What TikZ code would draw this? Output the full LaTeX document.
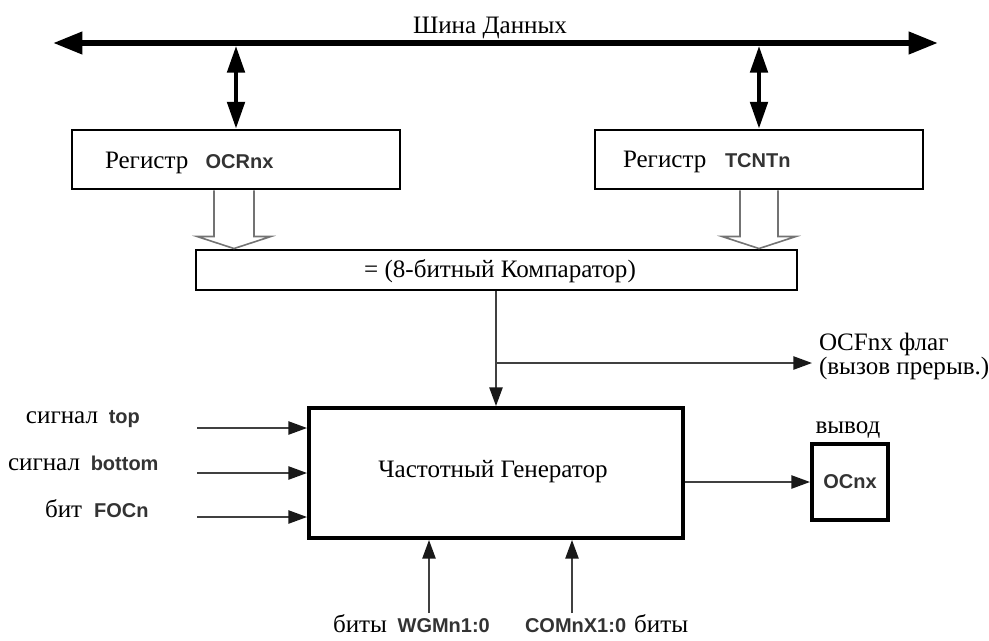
\documentclass[tikz,border=0pt]{standalone}
\usepackage{fontspec}
\setmainfont{Liberation Serif}
\setsansfont{Liberation Sans}
\usetikzlibrary{arrows.meta,calc}
\newcommand\sfb[1]{{\sffamily\bfseries\fontsize{15pt}{17pt}\selectfont\color{black!80}#1}}
\begin{document}
\begin{tikzpicture}[x=0.75pt,y=-0.75pt,
  serif/.style={font=\fontsize{18.8pt}{20pt}\selectfont, inner sep=0pt, outer sep=0pt},
  bus/.style={line width=4.5pt, {Triangle[length=22pt,width=16pt]}-{Triangle[length=22pt,width=16pt]}},
  dbl/.style={line width=3pt, {Triangle[length=20pt,width=13pt]}-{Triangle[length=20pt,width=13pt]}},
  regbox/.style={draw, line width=2.2pt, minimum width=246pt, minimum height=44.25pt, inner sep=0pt},
  hollow/.style={draw=black!55, fill=white, line width=1.2pt, line join=miter},
  conn/.style={draw=black!75, line width=1.1pt, -{Triangle[length=14pt,width=10pt,color=black!90]}}
]
\useasboundingbox (0,0) rectangle (989,640);

% data bus
\coordinate (busL) at (53,43);
\coordinate (busR) at (938,43);
\draw[bus] (busL) -- (busR);
\node[serif, anchor=base] (buslbl) at (490,33) {Шина Данных};

% registers
\node[regbox] (ocr) at (236,159.5) {};
\node[regbox] (tcnt) at (759,159.5) {};
\node[serif, anchor=base west] (ocrlbl) at (105,168) {Регистр\hspace{13pt}\sfb{OCRnx}};
\node[serif, anchor=base west] (tcntlbl) at (623,167) {Регистр\hspace{14pt}\sfb{TCNTn}};

% bus <-> registers
\draw[dbl] ($(ocr.north |- busL)+(0,3)$) -- (ocr.north);
\draw[dbl] ($(tcnt.north |- busL)+(0,3)$) -- (tcnt.north);

% comparator
\node[draw, line width=2.2pt, minimum width=450.75pt, minimum height=30pt, inner sep=0pt] (comp) at (496.5,270) {};
\node[serif, anchor=base] (complbl) at (500,277) {= (8-битный Компаратор)};

% hollow arrows
\coordinate (hl) at ($(ocr.south)+(-2,0)$);
\draw[hollow] ($(hl)+(-20,0)$) -- ++(0,46) -- ++(-17,0) -- (hl |- comp.north) -- ($(hl)+(37,46)$) -- ++(-17,0) -- ++(0,-46);
\coordinate (hr) at (tcnt.south);
\draw[hollow] ($(hr)+(-19,0)$) -- ++(0,46) -- ++(-18,0) -- (hr |- comp.north) -- ($(hr)+(37,46)$) -- ++(-18,0) -- ++(0,-46);

% generator
\node[draw, line width=3pt, minimum width=280.5pt, minimum height=97.5pt, inner sep=0pt] (gen) at (496,473) {};
\node[serif, anchor=base] (genlbl) at (493,477) {Частотный Генератор};

\draw[conn] (comp.south -| gen.north) -- (gen.north);
\coordinate (br) at (gen.north |- 0,363);
\coordinate (flagtip) at (812,363);
\draw[conn] (br) -- (flagtip);
\node[serif, anchor=base west] (flag1) at (819,350) {OCFnx флаг};
\node[serif, anchor=base west] (flag2) at (819,374) {(вызов прерыв.)};

% output
\node[draw, line width=3pt, minimum width=57pt, minimum height=57pt, inner sep=0pt] (ocnx) at (850,482) {\sfb{OCnx}};
\node[serif, anchor=base] (outlbl) at (848,433) {вывод};
\draw[conn] (gen.east |- ocnx) -- (ocnx.west);

% inputs
\coordinate (in1) at (197,428);
\coordinate (in2) at (197,473);
\coordinate (in3) at (197,517);
\draw[conn] (in1) -- (in1 -| gen.west);
\draw[conn] (in2) -- (in2 -| gen.west);
\draw[conn] (in3) -- (in3 -| gen.west);
\node[serif, anchor=base west] (l1) at (26,423) {сигнал\hspace{8pt}\sfb{top}};
\node[serif, anchor=base west] (l2) at (8,470) {сигнал\hspace{8pt}\sfb{bottom}};
\node[serif, anchor=base west] (l3) at (45,517) {бит\hspace{9pt}\sfb{FOCn}};

% bottom inputs
\coordinate (b1) at (429,613);
\coordinate (b2) at (572,613);
\draw[conn] (b1) -- (b1 |- gen.south);
\draw[conn] (b2) -- (b2 |- gen.south);
\node[serif, anchor=base west] (bl1) at (333,632) {биты\hspace{8pt}\sfb{WGMn1:0}};
\node[serif, anchor=base west] (bl2) at (525,632) {\sfb{COMnX1:0}\hspace{6pt}биты};
\end{tikzpicture}
\end{document}
